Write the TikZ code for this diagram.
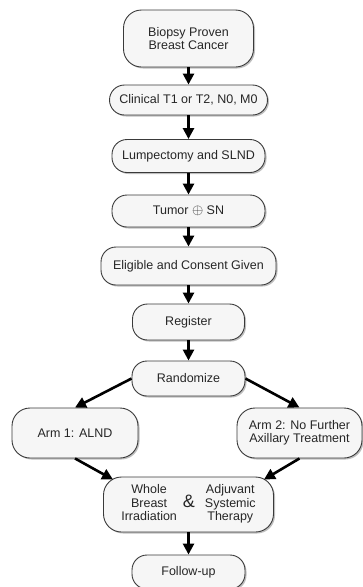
\documentclass[tikz,border=0pt]{standalone}
\usepackage{fontspec}
\setmainfont{Liberation Sans}
\usetikzlibrary{arrows.meta,shadows}
\definecolor{edgecol}{HTML}{3A3A3A}
\definecolor{txtcol}{HTML}{262626}
\definecolor{boxfill}{HTML}{F6F6F6}
\begin{document}
\begin{tikzpicture}[x=1pt,y=-1pt,
  box/.style={draw=edgecol, line width=0.9pt, fill=boxfill, rounded corners=15pt,
    inner sep=0pt, align=center, text=txtcol,
    font=\fontsize{12.5}{13.5}\selectfont,
    drop shadow={shadow xshift=1.5pt, shadow yshift=-1.5pt, opacity=0.25, fill=black}},
  bigbox/.style={box, rounded corners=18pt},
  arr/.style={-{Triangle[length=11pt,width=11pt]}, line width=2.6pt, black}]
\useasboundingbox (0,0) rectangle (363,587);

\node[bigbox, minimum width=130pt, minimum height=57pt] (b1) at (188.5,38.5) {Biopsy Proven\\Breast Cancer};
\node[box, minimum width=158pt, minimum height=30pt] (b2) at (188.5,100) {Clinical T1 or T2, N0, M0};
\node[box, minimum width=153pt, minimum height=33pt] (b3) at (188.5,156) {Lumpectomy and SLND};
\node[box, minimum width=153pt, minimum height=32pt] (b4) at (188.5,211) {Tumor {\fontsize{15}{15}\selectfont$\oplus$} SN};
\node[box, minimum width=175pt, minimum height=38pt] (b5) at (188.5,266) {Eligible and Consent Given};
\node[box, minimum width=112pt, minimum height=36pt] (b6) at (188.5,322) {Register};
\node[box, minimum width=113pt, minimum height=35pt] (b7) at (188.5,378.5) {Randomize};
\node[bigbox, minimum width=126pt, minimum height=50pt] (arm1) at (75,433) {Arm 1: ALND};
\node[bigbox, minimum width=125pt, minimum height=50pt] (arm2) at (299.5,433) {Arm 2: No Further\\Axillary Treatment};
\node[bigbox, minimum width=170pt, minimum height=55pt] (whole) at (188.5,504.5)
  {\begin{tabular}[c]{@{}c@{}}Whole\\Breast\\Irradiation\end{tabular}\hspace{6pt}{\fontsize{18}{18}\selectfont\&}\hspace{10pt}\begin{tabular}[c]{@{}c@{}}Adjuvant\\Systemic\\Therapy\end{tabular}};
\node[box, minimum width=113pt, minimum height=34pt] (b9) at (188.5,572) {Follow-up};

\draw[arr] (b1.south) -- (b2.north);
\draw[arr] (b2.south) -- (b3.north);
\draw[arr] (b3.south) -- (b4.north);
\draw[arr] (b4.south) -- (b5.north);
\draw[arr] (b5.south) -- (b6.north);
\draw[arr] (b6.south) -- (b7.north);
\draw[arr] (b7.west) -- (arm1.north);
\draw[arr] (b7.east) -- (arm2.north);
\draw[arr] (arm1.south) -- ([xshift=10pt,yshift=-3pt]whole.north west);
\draw[arr] (arm2.south) -- ([xshift=-10pt,yshift=-3pt]whole.north east);
\draw[arr] (whole.south) -- (b9.north);
\end{tikzpicture}
\end{document}
